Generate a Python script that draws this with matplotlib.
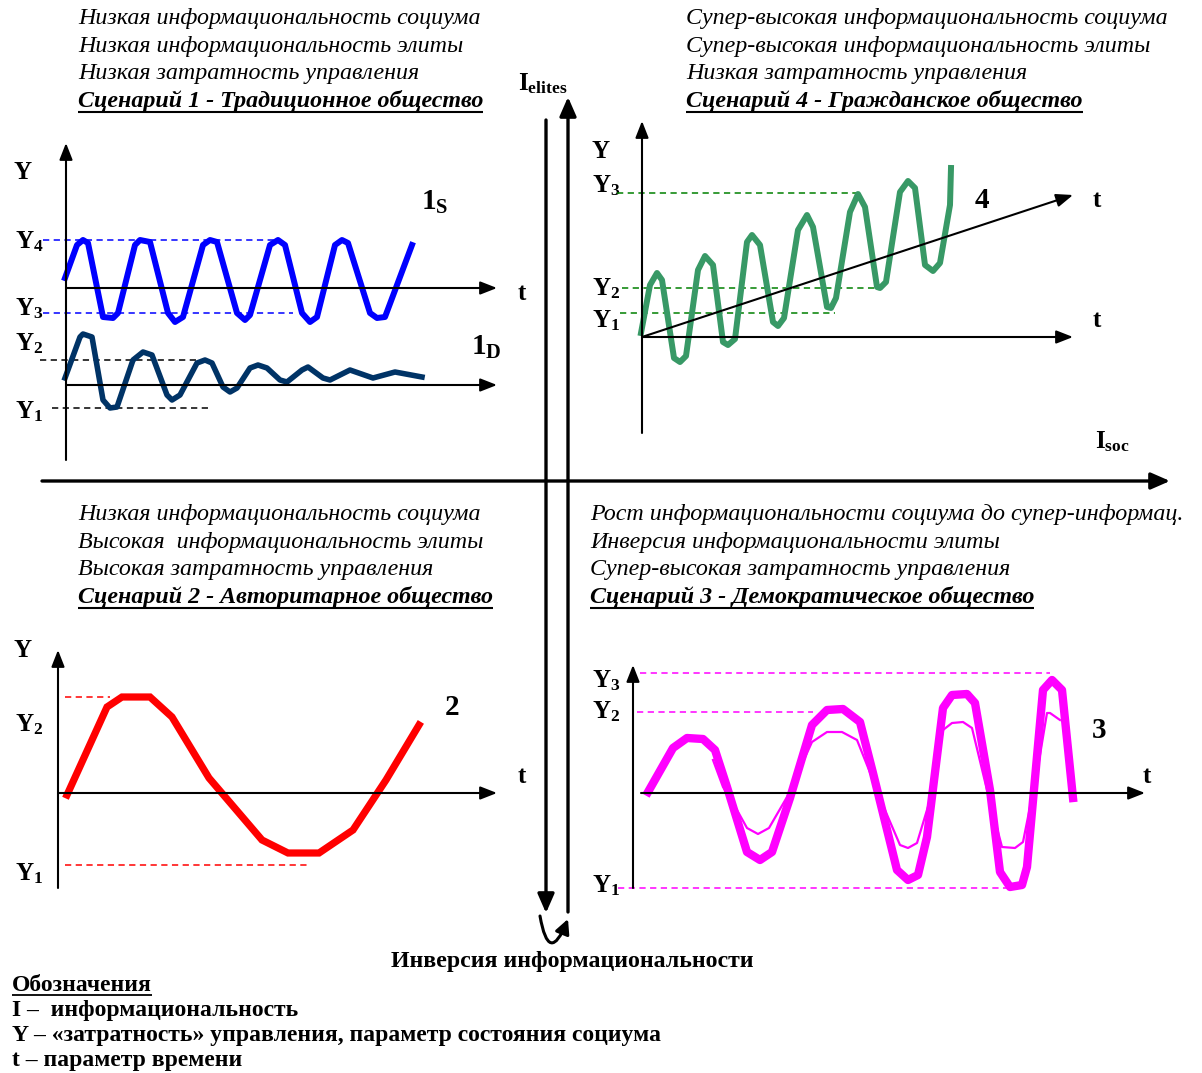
import matplotlib
matplotlib.use('Agg')
import matplotlib.pyplot as plt

plt.rcParams['font.family'] = ['Liberation Serif', 'DejaVu Serif']
plt.rcParams['mathtext.fontset'] = 'custom'
plt.rcParams['mathtext.rm'] = 'Liberation Serif'
plt.rcParams['mathtext.bf'] = 'Liberation Serif:bold'
plt.rcParams['mathtext.it'] = 'Liberation Serif:italic'
plt.rcParams['lines.scale_dashes'] = False

W, H = 1202, 1073

# --- ДАННЫЕ (локальные единицы каждой панели: t вправо, Y вверх) ---
# Сценарий 1: стабильные колебания (1S) и затухающие (1D)
t_1s = [-1, 11, 17, 22, 37, 47, 52, 69, 74, 84, 102, 109, 117, 137, 144, 151, 171, 179, 184,
        204, 212, 219, 236, 244, 251, 269, 276, 282, 304, 311, 319, 346]
y_1s = [10, 43, 48, 45, -29, -30, -25, 43, 48, 46, -25, -34, -29, 43, 48, 46, -25, -32, -27,
        43, 48, 43, -25, -34, -29, 43, 48, 45, -25, -30, -29, 43]
t_1d = [-1, 14, 17, 26, 37, 44, 51, 67, 77, 86, 101, 106, 114, 131, 139, 146, 157, 164, 171,
        184, 192, 201, 214, 221, 236, 242, 257, 264, 284, 307, 329, 356]
y_1d = [7, 48, 51, 48, -15, -23, -22, 25, 33, 30, -10, -15, -10, 22, 25, 22, -2, -7, -3,
        17, 20, 17, 5, 3, 15, 18, 7, 5, 15, 7, 13, 8]
levels_1s = {'Y4': 48, 'Y3': -25}
levels_1d = {'Y2': 25, 'Y1': -23}

# Сценарий 4: рост с колебаниями
t_4 = [-1, 8, 15, 20, 32, 38, 44, 56, 63, 71, 81, 86, 93, 105, 110, 118, 131, 136, 142,
       156, 165, 171, 185, 189, 194, 208, 216, 223, 235, 238, 244, 258, 266, 273, 283, 291,
       298, 308, 309]
y_4 = [4, 52, 64, 57, -21, -25, -19, 67, 81, 72, -5, -8, -2, 95, 102, 92, 15, 11, 19,
       107, 122, 110, 30, 29, 39, 125, 143, 130, 50, 49, 55, 145, 156, 149, 72, 66,
       74, 132, 169]
levels_4 = {'Y3': 144, 'Y2': 49, 'Y1': 24}
trend_4 = [(0, 0), (431, 142)]

# Сценарий 2: медленное колебание
t_2 = [9, 49, 64, 92, 114, 151, 204, 230, 261, 295, 328, 361]
y_2 = [-2, 86, 96, 96, 76, 15, -47, -60, -60, -37, 13, 68]
levels_2 = {'Y2': 96, 'Y1': -72}

# Сценарий 3: нарастающие колебания (толстая) и исходная (тонкая)
t_3 = [15, 40, 54, 70, 82, 94, 114, 127, 139, 157, 179, 194, 210, 227, 240, 264, 275, 285,
       294, 310, 319, 334, 342, 357, 367, 377, 389, 394, 410, 419, 429, 440]
y_3 = [1, 45, 55, 54, 43, 6, -59, -67, -59, -5, 68, 83, 84, 71, 20, -77, -87, -82,
       -44, 85, 98, 99, 90, 3, -79, -94, -92, -74, 103, 113, 103, -5]
t_3thin = [80, 90, 104, 114, 125, 136, 154, 179, 194, 209, 224, 234, 252, 267, 275, 284,
           297, 310, 319, 330, 339, 354, 369, 382, 390, 405, 414, 417, 427]
y_3thin = [33, 6, -17, -35, -41, -35, -4, 51, 61, 61, 53, 28, -17, -52, -55, -50,
           -7, 63, 70, 71, 65, 3, -54, -55, -49, 26, 80, 80, 73]
levels_3 = {'Y3': 120, 'Y2': 81, 'Y1': -95}

text_tl = ["Низкая информациональность социума", "Низкая информациональность элиты",
           "Низкая затратность управления"]
title_tl = "Сценарий 1 - Традиционное общество"
text_tr = ["Супер-высокая информациональность социума", "Супер-высокая информациональность элиты",
           "Низкая затратность управления"]
title_tr = "Сценарий 4 - Гражданское общество"
text_bl = ["Низкая информациональность социума", "Высокая  информациональность элиты",
           "Высокая затратность управления"]
title_bl = "Сценарий 2 - Авторитарное общество"
text_br = ["Рост информациональности социума до супер-информац.",
           "Инверсия информациональности элиты", "Супер-высокая затратность управления"]
title_br = "Сценарий 3 - Демократическое общество"

legend_title = "Обозначения"
legend_lines = ["I –  информациональность",
                "Y – «затратность» управления, параметр состояния социума",
                "t – параметр времени"]

BLUE = '#0000ff'
NAVY = '#003366'
GREEN = '#389966'
RED = '#ff0000'
MAGENTA = '#ff00ff'

fig = plt.figure(figsize=(W / 100, H / 100), dpi=100)
bg = fig.add_axes([0, 0, 1, 1])
bg.set_xlim(0, W)
bg.set_ylim(H, 0)
bg.axis('off')
renderer = fig.canvas.get_renderer()


def panel(ox, oy, x0, x1, y0, y1):
    ax = fig.add_axes([x0 / W, 1 - y1 / H, (x1 - x0) / W, (y1 - y0) / H])
    ax.set_xlim(x0 - ox, x1 - ox)
    ax.set_ylim(oy - y1, oy - y0)
    ax.axis('off')
    ax.patch.set_alpha(0)
    return ax


def arrow(ax, p0, p1, lw=1.5, hl=14, hw=5.5, conn='arc3'):
    ax.annotate('', xy=p1, xytext=p0, annotation_clip=False,
                arrowprops=dict(arrowstyle=f'-|>,head_length={hl * 0.72},head_width={hw * 0.72}',
                                mutation_scale=1, lw=lw, color='k',
                                shrinkA=0, shrinkB=0, connectionstyle=conn))


def dashed(ax, x0, x1, y, color):
    ax.plot([x0, x1], [y, y], color=color, lw=1.1, dashes=(4.5, 3.2), clip_on=False)


def lab(x, y, s, size=18, **kw):
    return bg.text(x, y, s, fontsize=size, fontweight='bold', va='baseline', **kw)


def underline(t, y, lw=1.5):
    bb = t.get_window_extent(renderer)
    inv = bg.transData.inverted()
    xa = inv.transform((bb.x0, bb.y0))[0]
    xb = inv.transform((bb.x1, bb.y1))[0]
    bg.plot([xa, xb], [y, y], color='k', lw=lw, solid_capstyle='butt')


def block(x, base, lines, title, size=17.3):
    for i, s in enumerate(lines):
        bg.text(x, base + i * 27.7, s, fontsize=size, style='italic', va='baseline')
    t = bg.text(x, base + 3 * 27.7, title, fontsize=size, style='italic',
                fontweight='bold', va='baseline')
    underline(t, base + 3 * 27.7 + 5)


# --- центральные оси ---
arrow(bg, (42, 481), (1170, 481), lw=2.4, hl=16, hw=7)
arrow(bg, (568, 912), (568, 97), lw=2.4, hl=16, hw=7)
arrow(bg, (546, 120), (546, 913), lw=2.4, hl=16, hw=7)
arrow(bg, (540, 916), (568, 919), lw=2.2, hl=12, hw=6, conn='arc3,rad=1.75')
lab(518, 90, r'I$_{\mathbf{elites}}$', size=18)
lab(1095, 448, r'I$_{\mathbf{soc}}$', size=18)
lab(572, 967, "Инверсия информациональности", size=17.2, ha='center')

# --- Панель 1 ---
a1 = panel(66, 288, 0, 540, 130, 470)
arrow(a1, (0, -172), (0, 145), lw=1.5)
arrow(a1, (0, 0), (431, 0), lw=1.5)
arrow(a1, (0, -97), (431, -97), lw=1.5)
dashed(a1, -23, 211, levels_1s['Y4'], BLUE)
dashed(a1, -23, 227, levels_1s['Y3'], BLUE)
dashed(a1, -26, 144, levels_1d['Y2'] - 97, 'k')
dashed(a1, -14, 144, levels_1d['Y1'] - 97, 'k')
a1.plot(t_1s, y_1s, color=BLUE, lw=4.3, solid_joinstyle='round', clip_on=False)
a1.plot(t_1d, [v - 97 for v in y_1d], color=NAVY, lw=4.0, solid_joinstyle='round', clip_on=False)
lab(14, 179, 'Y')
lab(15, 248, r'Y$_{\mathbf{4}}$')
lab(15, 315, r'Y$_{\mathbf{3}}$')
lab(15, 350, r'Y$_{\mathbf{2}}$')
lab(15, 418, r'Y$_{\mathbf{1}}$')
lab(518, 300, 't')
lab(421, 210, r'1$_{\mathbf{S}}$', size=21)
lab(471, 355, r'1$_{\mathbf{D}}$', size=21)

# --- Панель 4 ---
a4 = panel(642, 337, 580, 1120, 110, 450)
arrow(a4, (0, -96), (0, 216), lw=1.5)
arrow(a4, (0, 0), (431, 0), lw=1.5)
arrow(a4, trend_4[0], trend_4[1], lw=1.5)
dashed(a4, -25, 216, levels_4['Y3'], '#008000')
dashed(a4, -20, 240, levels_4['Y2'], '#008000')
dashed(a4, -22, 193, levels_4['Y1'], '#008000')
a4.plot(t_4, y_4, color=GREEN, lw=4.3, solid_joinstyle='round', clip_on=False)
lab(592, 158, 'Y')
lab(592, 192, r'Y$_{\mathbf{3}}$')
lab(592, 295, r'Y$_{\mathbf{2}}$')
lab(592, 327, r'Y$_{\mathbf{1}}$')
lab(975, 208, '4', size=21)
lab(1093, 207, 't')
lab(1093, 327, 't')

# --- Панель 2 ---
a2 = panel(58, 793, 0, 540, 620, 900)
arrow(a2, (0, -95), (0, 143), lw=1.5)
arrow(a2, (0, 0), (439, 0), lw=1.5)
dashed(a2, 7, 52, levels_2['Y2'], RED)
dashed(a2, 7, 249, levels_2['Y1'], RED)
a2.plot(t_2, y_2, color=RED, lw=5.2, solid_joinstyle='miter', clip_on=False)
lab(14, 657, 'Y')
lab(15, 731, r'Y$_{\mathbf{2}}$')
lab(15, 880, r'Y$_{\mathbf{1}}$')
lab(445, 715, '2', size=21)
lab(518, 783, 't')

# --- Панель 3 ---
a3 = panel(633, 793, 580, 1180, 640, 910)
arrow(a3, (0, -95), (0, 128), lw=1.5)
arrow(a3, (8, 0), (512, 0), lw=1.5)
dashed(a3, 7, 417, levels_3['Y3'], MAGENTA)
dashed(a3, 4, 180, levels_3['Y2'], MAGENTA)
dashed(a3, -15, 374, levels_3['Y1'], MAGENTA)
a3.plot(t_3, y_3, color=MAGENTA, lw=6.0, solid_joinstyle='round', clip_on=False)
a3.plot(t_3thin, y_3thin, color=MAGENTA, lw=1.6, clip_on=False)
lab(592, 687, r'Y$_{\mathbf{3}}$')
lab(592, 718, r'Y$_{\mathbf{2}}$')
lab(592, 892, r'Y$_{\mathbf{1}}$')
lab(1092, 738, '3', size=21)
lab(1143, 783, 't')

# --- тексты сценариев ---
block(78, 24, text_tl, title_tl)
block(686, 24, text_tr, title_tr)
block(78, 520, text_bl, title_bl)
block(590, 520, text_br, title_br)

# --- обозначения ---
t = lab(12, 991, legend_title, size=17)
underline(t, 995, lw=1.3)
for i, s in enumerate(legend_lines):
    lab(12, 1016 + 25 * i, s, size=17)

fig.savefig('out.png', dpi=100)
